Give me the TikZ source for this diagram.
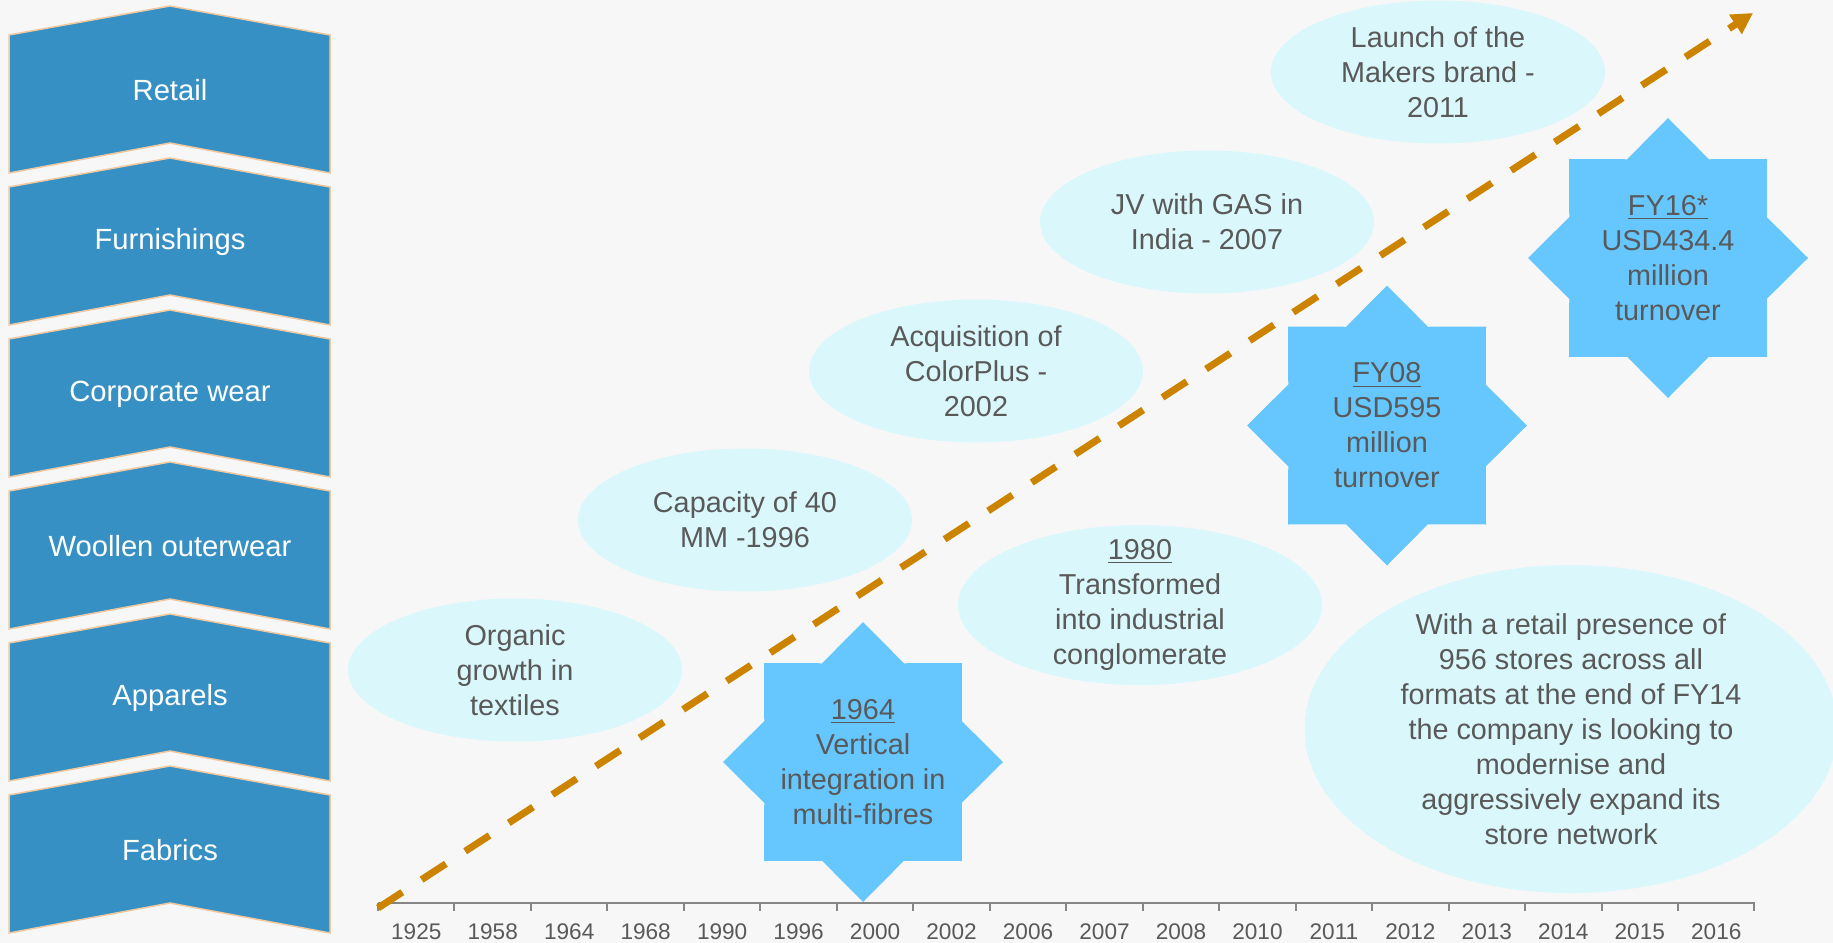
\documentclass[tikz,border=0pt]{standalone}
\usepackage{fontspec}
\setmainfont{Liberation Sans}
\usetikzlibrary{arrows.meta,shapes.geometric,positioning}
\usepackage{xcolor}
\definecolor{chevblue}{RGB}{54,144,196}
\definecolor{chevedge}{RGB}{240,200,160}
\definecolor{bubblecyan}{RGB}{218,248,252}
\definecolor{starblue}{RGB}{102,199,255}
\definecolor{txtgray}{RGB}{89,89,89}
\definecolor{axisgray}{RGB}{134,134,134}
\definecolor{trendorange}{RGB}{204,132,0}
\definecolor{bggray}{RGB}{247,247,247}

\begin{document}
\begin{tikzpicture}[x=0.5pt,y=-0.5pt,
	seglabel/.style={text=white,font=\fontsize{14.6}{17.5}\selectfont},
	bubble/.style={ellipse,fill=bubblecyan,inner sep=0pt,minimum width=167pt,minimum height=71.5pt,
		text=txtgray,align=center,font=\fontsize{14.4}{17.5}\selectfont},
	burst/.style={star,star points=8,star point ratio=1.31,minimum size=140pt,inner sep=-8pt,
		fill=starblue,text=txtgray,align=center,font=\fontsize{14.4}{17.5}\selectfont},
	yearlabel/.style={text=txtgray,font=\fontsize{11.3}{13}\selectfont}]
	% Sfondo
	\fill[bggray] (0,0) rectangle (1833,943);
	\useasboundingbox (0,0) rectangle (1833,943);
	
	% Segmenti a sinistra
	\foreach \name [count=\i from 0] in {Retail,Furnishings,Corporate wear,Woollen outerwear,Apparels,Fabrics} {
		\pgfmathsetmacro{\ytop}{35+152*\i}
		\draw[fill=chevblue,draw=chevedge,line width=0.75pt] (9,\ytop) -- (170,\ytop-29) -- (330,\ytop)
			-- (330,\ytop+138) -- (170,\ytop+108) -- (9,\ytop+138) -- cycle;
		\node[seglabel] (seg\i) at (170,\ytop+55) {\name};
	}
	
	% Asse dei tempi
	\draw[axisgray,line width=1pt] (378,903) -- (1754.5,903);
	\foreach \k in {0,...,18}
		\draw[axisgray,line width=1pt] (378+76.47*\k,903) -- ++(0,8);
	\foreach \yr [count=\k] in {1925,1958,1964,1968,1990,1996,2000,2002,2006,2007,2008,2010,2011,2012,2013,2014,2015,2016}
		\node[yearlabel] (yr\k) at (378+76.47*\k-38.2,932) {\yr};
	
	% Tappe
	\node[bubble] (organic) at (515,670) {Organic\\growth in\\textiles};
	\node[bubble] (capacity) at (745,520) {Capacity of 40\\MM -1996};
	\node[bubble] (colorplus) at (976,371) {Acquisition of\\ColorPlus -\\2002};
	\node[bubble] (gasjv) at (1207,222) {JV with GAS in\\India - 2007};
	\node[bubble] (makers) at (1438,72) {Launch of the\\Makers brand -\\2011};
	\node[bubble,minimum width=182pt,minimum height=80pt,inner ysep=-12pt] (conglo) at (1140,605)
		{\underline{1980}\\Transformed\\into industrial\\conglomerate};
	\node[bubble,minimum width=266.5pt,minimum height=164pt,inner ysep=-8pt] (stores) at (1571,729)
		{With a retail presence of\\956 stores across all\\formats at the end of FY14\\the company is looking to\\modernise and\\aggressively expand its\\store network};
	
	% Stelle
	\node[burst] (vertical) at (863,762) {\underline{1964}\\Vertical\\integration in\\multi-fibres};
	\node[burst] (fy08) at (1387,425.5) {\underline{FY08}\\USD595\\million\\turnover};
	\node[burst] (fy16) at (1668,258) {\underline{FY16*}\\USD434.4\\million\\turnover};
	
	% Freccia di crescita
	\coordinate (trend-start) at (378,908);
	\coordinate (trend-end) at (1753,13);
	\draw[trendorange,line width=3.5pt,dash pattern=on 14.5pt off 11.5pt,-{Triangle[length=10.5pt,width=11pt]}]
		(trend-start) -- (trend-end);
\end{tikzpicture}
\end{document}
